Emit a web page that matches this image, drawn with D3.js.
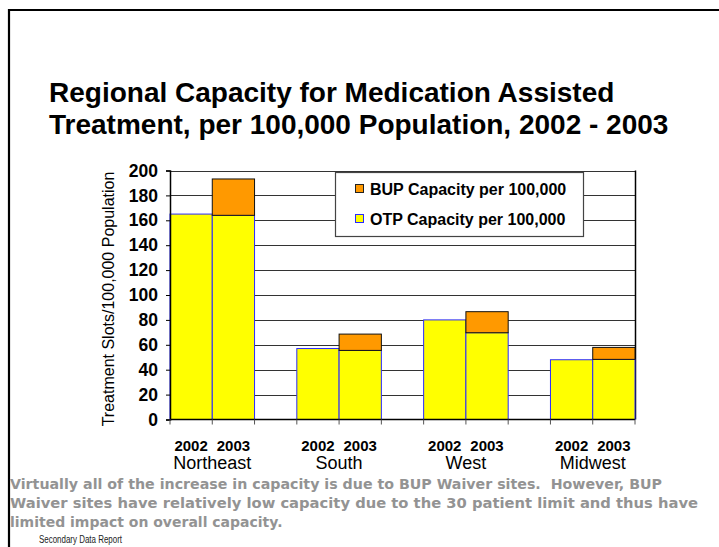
<!DOCTYPE html>
<html>
<head>
<meta charset="utf-8">
<script src="https://cdn.jsdelivr.net/npm/d3@7"></script>
<style>
  html, body { margin: 0; padding: 0; background: #fff; }
  svg { display: block; }
</style>
</head>
<body>
<script>
// Regions, years and capacity per 100,000 population
const regions = ["Northeast", "South", "West", "Midwest"];
const years = ["2002", "2003"];
const otp2002 = [165, 57, 80, 48];
const otp2003 = [164, 55.5, 69.7, 48.3];
const bup2002 = [0, 0, 0, 0];
const bup2003 = [29.2, 13.1, 16.9, 9.6];
const yTicks = [0, 20, 40, 60, 80, 100, 120, 140, 160, 180, 200];
const seriesNames = ["BUP Capacity per 100,000", "OTP Capacity per 100,000"];
const titleLines = ["Regional Capacity for Medication Assisted",
                    "Treatment, per 100,000 Population, 2002 - 2003"];
const yTitle = "Treatment Slots/100,000 Population";
const noteLines = [
  "Virtually all of the increase in capacity is due to BUP Waiver sites.  However, BUP",
  "Waiver sites have relatively low capacity due to the 30 patient limit and thus have",
  "limited impact on overall capacity."
];
const noteWidths = [652, 688, null];
const footer = "Secondary Data Report";

const W = 719, H = 547;
const plot = { left: 170, right: 635, top: 170.5, bottom: 419.5 };

const svg = d3.select("body").append("svg")
  .attr("width", W).attr("height", H);

svg.append("rect").attr("width", W).attr("height", H).attr("fill", "#fff");

// slide frame (left and top rules)
svg.append("path")
  .attr("d", `M9,${H} V10 H${W}`)
  .attr("fill", "none").attr("stroke", "#000").attr("stroke-width", 2.2);

// title
const title = svg.append("text")
  .attr("font-family", "'Liberation Sans', Arial, sans-serif")
  .attr("font-weight", "bold").attr("font-size", 28).attr("fill", "#000");
titleLines.forEach((t, i) => {
  title.append("tspan").attr("x", 49).attr("y", 102 + i * 32).text(t);
});

// one slot per bar, with an empty slot between regions
const slots = [];
const rows = [];
regions.forEach((r, i) => {
  years.forEach((y, j) => {
    const key = r + "-" + y;
    slots.push(key);
    const otp = j === 0 ? otp2002[i] : otp2003[i];
    const bup = j === 0 ? bup2002[i] : bup2003[i];
    rows.push({ key, region: r, year: y, otp, bup });
  });
  if (i < regions.length - 1) slots.push("gap-" + i);
});

const x = d3.scaleBand().domain(slots).range([plot.left, plot.right]).padding(0);
const y = d3.scaleLinear().domain([0, 200]).range([plot.bottom, plot.top]);

const stack = d3.stack().keys(["otp", "bup"]);
const stacked = stack(rows);

// plot background
svg.append("rect")
  .attr("x", plot.left).attr("y", plot.top)
  .attr("width", plot.right - plot.left).attr("height", plot.bottom - plot.top)
  .attr("fill", "#fff");

// horizontal gridlines
svg.append("g")
  .selectAll("line").data(yTicks.filter(d => d > 0))
  .join("line")
  .attr("x1", plot.left).attr("x2", plot.right)
  .attr("y1", d => Math.round(y(d)) + 0.5).attr("y2", d => Math.round(y(d)) + 0.5)
  .attr("stroke", "#333").attr("stroke-width", 1);

// right edge of plot area
svg.append("line")
  .attr("x1", plot.right + 0.5).attr("x2", plot.right + 0.5)
  .attr("y1", plot.top).attr("y2", plot.bottom)
  .attr("stroke", "#000").attr("stroke-width", 1.5);

// bars: OTP (yellow) under BUP (orange)
const fills = { otp: "#ffff00", bup: "#ff9900" };
const strokes = { otp: "#2a2aff", bup: "#111" };
stacked.forEach(layer => {
  svg.append("g").selectAll("rect")
    .data(layer.filter(d => d[1] - d[0] > 0))
    .join("rect")
    .attr("x", d => x(d.data.key))
    .attr("width", x.bandwidth())
    .attr("y", d => y(d[1]))
    .attr("height", d => y(d[0]) - y(d[1]))
    .attr("fill", fills[layer.key])
    .attr("stroke", strokes[layer.key])
    .attr("stroke-width", 1);
});

// y axis
const yAxis = d3.axisLeft(y).tickValues(yTicks).tickSize(4).tickPadding(8);
const gy = svg.append("g").attr("transform", `translate(${plot.left},0)`).call(yAxis);
gy.select(".domain").attr("stroke", "#000").attr("stroke-width", 1.5);
gy.selectAll(".tick line").attr("stroke", "#000");
gy.selectAll(".tick text")
  .attr("font-family", "'Liberation Sans', Arial, sans-serif")
  .attr("font-weight", "bold").attr("font-size", 17.5).attr("fill", "#000");

// x axis: tick at each slot boundary
const boundaries = slots.map(s => x(s)).concat([plot.right]);
const gx = svg.append("g");
gx.append("line")
  .attr("x1", plot.left).attr("x2", plot.right)
  .attr("y1", plot.bottom).attr("y2", plot.bottom)
  .attr("stroke", "#000").attr("stroke-width", 1.5);
gx.selectAll("line.tk").data(boundaries).join("line").attr("class", "tk")
  .attr("x1", d => d).attr("x2", d => d)
  .attr("y1", plot.bottom).attr("y2", plot.bottom + 5)
  .attr("stroke", "#555");

// year labels under each bar
svg.append("g").selectAll("text").data(rows).join("text")
  .attr("x", d => x(d.key) + x.bandwidth() / 2)
  .attr("y", 451)
  .attr("text-anchor", "middle")
  .attr("font-family", "'Liberation Sans', Arial, sans-serif")
  .attr("font-weight", "bold").attr("font-size", 15).attr("fill", "#000")
  .text(d => d.year);

// region labels under each pair
svg.append("g").selectAll("text").data(regions).join("text")
  .attr("x", r => x(r + "-" + years[1]))
  .attr("y", 469)
  .attr("text-anchor", "middle")
  .attr("font-family", "'Liberation Sans', Arial, sans-serif")
  .attr("font-size", 18).attr("fill", "#000")
  .text(r => r);

// y axis title
svg.append("text")
  .attr("transform", `translate(114,${(plot.top + plot.bottom) / 2 + 4}) rotate(-90)`)
  .attr("text-anchor", "middle")
  .attr("font-family", "'Liberation Sans', Arial, sans-serif")
  .attr("font-size", 16).attr("fill", "#000")
  .text(yTitle);

// legend
const lg = svg.append("g");
lg.append("rect")
  .attr("x", 335.5).attr("y", 172.5).attr("width", 248).attr("height", 64)
  .attr("fill", "#fff").attr("stroke", "#444").attr("stroke-width", 1.2);
const legendKeys = ["bup", "otp"];
legendKeys.forEach((k, i) => {
  lg.append("rect")
    .attr("x", 355.5).attr("y", 184.5 + i * 30).attr("width", 8).attr("height", 8)
    .attr("fill", fills[k]).attr("stroke", k === "otp" ? "#2a2aff" : "#222");
  lg.append("text")
    .attr("x", 370).attr("y", 194.5 + i * 30)
    .attr("font-family", "'Liberation Sans', Arial, sans-serif")
    .attr("font-weight", "bold").attr("font-size", 16).attr("fill", "#000")
    .text(seriesNames[i]);
});

// note below the chart
const note = svg.append("text")
  .attr("font-family", "'DejaVu Sans', Verdana, sans-serif")
  .attr("font-weight", "bold").attr("font-size", 14).attr("fill", "#939393");
noteLines.forEach((t, i) => {
  const ts = note.append("tspan").attr("x", 10).attr("y", 489 + i * 19)
    .attr("xml:space", "preserve").text(t);
  if (noteWidths[i]) ts.attr("textLength", noteWidths[i]).attr("lengthAdjust", "spacingAndGlyphs");
});

// footer, set narrow
svg.append("text")
  .attr("x", 39).attr("y", 543)
  .attr("font-family", "'Liberation Sans', Arial, sans-serif")
  .attr("font-size", 10).attr("fill", "#222")
  .attr("textLength", 83).attr("lengthAdjust", "spacingAndGlyphs")
  .text(footer);
</script>
</body>
</html>
